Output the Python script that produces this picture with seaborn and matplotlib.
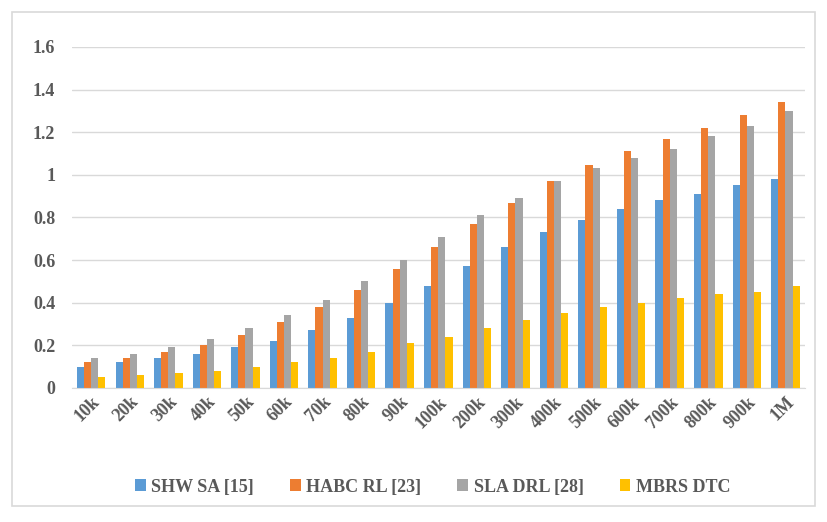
import matplotlib
matplotlib.use("Agg")
import matplotlib.pyplot as plt
import matplotlib.patches as patches
import seaborn as sns
import pandas as pd

categories = ["10k", "20k", "30k", "40k", "50k", "60k", "70k", "80k", "90k", "100k",
              "200k", "300k", "400k", "500k", "600k", "700k", "800k", "900k", "1M"]
shw_sa = [0.10, 0.12, 0.14, 0.16, 0.19, 0.22, 0.27, 0.33, 0.40, 0.48,
          0.57, 0.66, 0.73, 0.79, 0.84, 0.88, 0.91, 0.95, 0.98]
habc_rl = [0.12, 0.14, 0.17, 0.20, 0.25, 0.31, 0.38, 0.46, 0.56, 0.66,
           0.77, 0.87, 0.97, 1.045, 1.11, 1.17, 1.22, 1.28, 1.34]
sla_drl = [0.14, 0.16, 0.19, 0.23, 0.28, 0.34, 0.41, 0.50, 0.60, 0.71,
           0.81, 0.89, 0.97, 1.03, 1.08, 1.12, 1.18, 1.23, 1.30]
mbrs_dtc = [0.05, 0.06, 0.07, 0.08, 0.10, 0.12, 0.14, 0.17, 0.21, 0.24,
            0.28, 0.32, 0.35, 0.38, 0.40, 0.42, 0.44, 0.45, 0.48]
series_names = ["SHW SA [15]", "HABC RL [23]", "SLA DRL [28]", "MBRS DTC"]
colors = ["#5B9BD5", "#ED7D31", "#A5A5A5", "#FFC000"]

rows = []
for name, vals in zip(series_names, [shw_sa, habc_rl, sla_drl, mbrs_dtc]):
    for cat, v in zip(categories, vals):
        rows.append({"size": cat, "method": name, "value": v})
df = pd.DataFrame(rows)

sns.set_style("white")
plt.rcParams["font.family"] = ["Liberation Serif", "DejaVu Serif"]
plt.rcParams["font.weight"] = "bold"

fig = plt.figure(figsize=(8.27, 5.22), dpi=100)
ax = fig.add_axes([0.087, 0.257, 0.886, 0.653])

sns.barplot(data=df, x="size", y="value", hue="method", order=categories,
            hue_order=series_names, palette=colors, width=0.74, saturation=1,
            linewidth=0, edgecolor="none", ax=ax, legend=True)

ax.set_ylim(0, 1.6)
ax.set_yticks([0, 0.2, 0.4, 0.6, 0.8, 1, 1.2, 1.4, 1.6])
ax.set_yticklabels(["0", "0.2", "0.4", "0.6", "0.8", "1", "1.2", "1.4", "1.6"])
ax.set_xlim(-0.5, len(categories) - 0.5)
ax.yaxis.grid(True, color="#D9D9D9", linewidth=1)
ax.set_axisbelow(True)
for s in ["top", "right", "left"]:
    ax.spines[s].set_visible(False)
ax.spines["bottom"].set_color("#D9D9D9")
ax.set_xlabel("")
ax.set_ylabel("")
ax.tick_params(axis="y", length=0, pad=12, labelsize=13, labelcolor="#595959")
ax.tick_params(axis="x", length=0, pad=4, labelsize=13, labelcolor="#595959")
for lbl in ax.get_xticklabels():
    lbl.set_rotation(45)
    lbl.set_ha("right")
    lbl.set_rotation_mode("anchor")

handles, labels = ax.get_legend_handles_labels()
ax.legend_.remove()
fig.legend(handles, labels, loc="center", bbox_to_anchor=(0.523, 0.067), ncol=4,
           frameon=False, fontsize=13, handlelength=0.6, handleheight=0.6,
           handletextpad=0.3, columnspacing=2.0, labelcolor="#595959")

fig.patches.append(patches.Rectangle((12 / 827, 1 - 506 / 522), 803 / 827, 494 / 522,
                                     transform=fig.transFigure, fill=False,
                                     edgecolor="#D9D9D9", linewidth=1.2))

fig.savefig("out.png", dpi=100)
